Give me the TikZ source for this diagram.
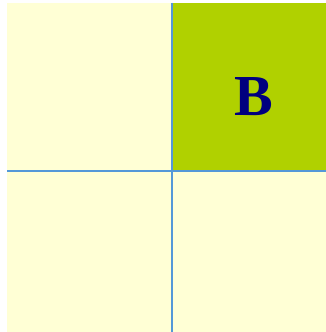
\documentclass[tikz,border=0pt]{standalone}
\usepackage{fontspec}
\newfontfamily\timesbf{Liberation Serif}
\usetikzlibrary{positioning}
\definecolor{pale}{HTML}{FFFFD5}
\definecolor{lime}{HTML}{B0D100}
\definecolor{navy}{HTML}{00007F}
\tikzset{
  pcell/.style={fill=pale, minimum width=164.5pt, minimum height=168.5pt, inner sep=0pt, outer sep=0pt},
  gcell/.style={fill=lime, minimum width=154.5pt, minimum height=168.5pt, inner sep=0pt, outer sep=0pt},
  qcell/.style={fill=pale, minimum width=154.5pt, minimum height=160.5pt, inner sep=0pt, outer sep=0pt},
  rcell/.style={fill=pale, minimum width=164.5pt, minimum height=160.5pt, inner sep=0pt, outer sep=0pt},
  splitline/.style={draw=cyan!60!blue!70!white, line width=2pt},
}
\begin{document}
\begin{tikzpicture}[x=1pt,y=1pt]
  \useasboundingbox (0,0) rectangle (326,332);
  % --- four quadrants ---
  \node[pcell, anchor=north west] (tl) at (7,329) {};
  \node[gcell, anchor=north west] (tr) at (tl.north east) {};
  \node[rcell, anchor=north west] (bl) at (tl.south west) {};
  \node[qcell, anchor=north west] (br) at (tl.south east) {};
  \node[text=navy, font=\timesbf\bfseries\fontsize{58}{58}\selectfont] (lab) at (254,235) {B};
  % dividing lines
  \coordinate (vtop) at (tr.north west);
  \coordinate (vbot) at (br.south west);
  \coordinate (hleft) at (bl.north west);
  \coordinate (hright) at (br.north east);
  \draw[splitline] (vtop) -- (vbot);
  \draw[splitline] (hleft) -- (hright);
\end{tikzpicture}
\end{document}
